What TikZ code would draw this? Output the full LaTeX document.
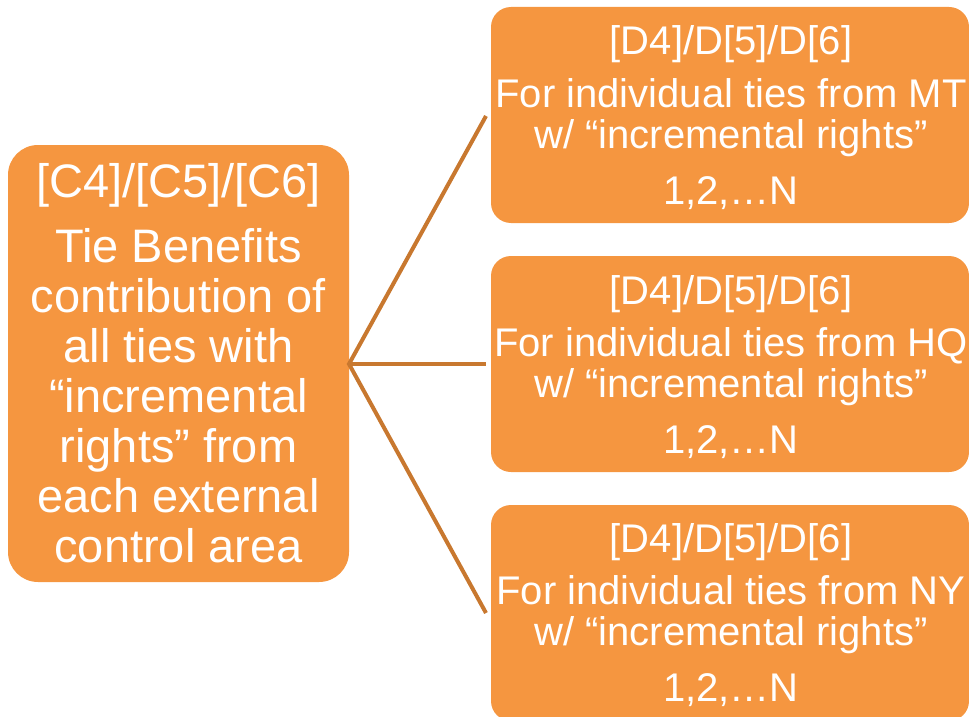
\documentclass[tikz,border=0pt]{standalone}
\usepackage{fontspec}
\setmainfont{Liberation Sans}
\definecolor{boxfill}{HTML}{F59640}
\definecolor{linkcol}{HTML}{C8782F}
\begin{document}
\begin{tikzpicture}[x=1pt,y=-1pt,
  box/.style={fill=boxfill, draw=none, inner sep=0pt, outer sep=0pt, anchor=north west},
  bigbox/.style={box, rounded corners=30pt, minimum width=341pt, minimum height=437pt},
  smallbox/.style={box, rounded corners=20pt, minimum width=478pt, minimum height=216pt},
  ltxt/.style={anchor=base, inner sep=0pt, text=white, font=\fontsize{47}{50}\selectfont},
  rtxt/.style={anchor=base, inner sep=0pt, text=white, font=\fontsize{40}{44}\selectfont},
  link/.style={draw=linkcol, line width=4pt}]
\useasboundingbox (0,0) rectangle (969,717);
% boxes
\node[bigbox] (L) at (8,145) {};
\node[smallbox] (R1) at (491,7) {};
\node[smallbox] (R2) at (491,256) {};
\node[smallbox] (R3) at (491,505) {};
% left text
\node[ltxt] (l0) at (178.5,197) {[C4]/[C5]/[C6]};
\node[ltxt] (l1) at (178.5,262) {Tie Benefits};
\node[ltxt] (l2) at (178.5,312) {contribution of};
\node[ltxt] (l3) at (178.5,362) {all ties with};
\node[ltxt] (l4) at (178.5,412) {“incremental};
\node[ltxt] (l5) at (178.5,462) {rights” from};
\node[ltxt] (l6) at (178.5,512) {each external};
\node[ltxt] (l7) at (178.5,562) {control area};
% right texts
\foreach \n/\dy/\src in {1/0/MT, 2/249/HQ, 3/497/NY}{
  \node[rtxt] (h\n) at (731,55+\dy) {[D4]/D[5]/D[6]};
  \node[rtxt] (f\n) at (731,107+\dy) {For individual ties from \src};
  \node[rtxt] (w\n) at (731,148+\dy) {w/ “incremental rights”};
  \node[rtxt] (n\n) at (731,204+\dy) {1,2,…N};
}
% connectors
\coordinate (hub) at (349,364);
\coordinate (e1) at (486,116);
\coordinate (e2) at (486,364);
\coordinate (e3) at (486,613);
\draw[link] (e1) -- (hub) -- (e3);
\draw[link] (hub) -- (e2);
\end{tikzpicture}
\end{document}
